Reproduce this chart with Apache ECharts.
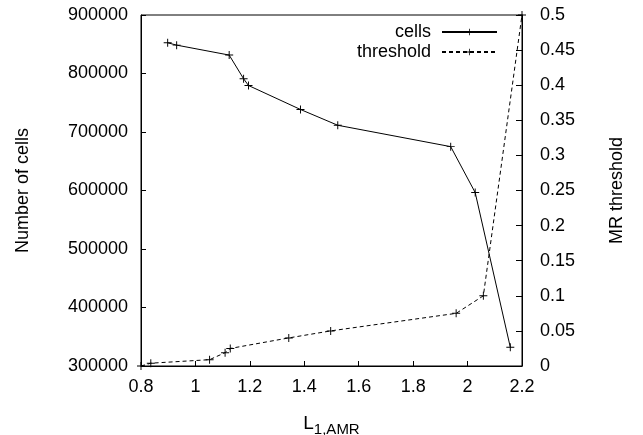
<!DOCTYPE html>
<html>
<head>
<meta charset="utf-8">
<script src="https://cdn.jsdelivr.net/npm/echarts@6/dist/echarts.min.js"></script>
<style>
  html, body { margin: 0; padding: 0; background: #fff; }
  #chart { width: 643px; height: 435px; }
</style>
</head>
<body>
<div id="chart"></div>
<script>
// cells curve (left axis)
var cellsX = [0.898, 0.931, 1.124, 1.177, 1.195, 1.386, 1.523, 1.938, 2.028, 2.157];
var cellsY = [852500, 848500, 831500, 791000, 779500, 738500, 711500, 675000, 596500, 332000];
// MR threshold curve (right axis)
var thrX = [0.8, 0.836, 1.052, 1.109, 1.128, 1.343, 1.497, 1.958, 2.058, 2.2];
var thrY = [0.0, 0.004, 0.009, 0.019, 0.025, 0.04, 0.05, 0.075, 0.1, 0.5];

var plus = 'path://M-1,-0.12L1,-0.12L1,0.12L-1,0.12Z M-0.12,-1L0.12,-1L0.12,1L-0.12,1Z';
var font = 'Liberation Sans';
var fs = 18;

function pairs(xs, ys) {
    var out = [];
    for (var i = 0; i < xs.length; i++) out.push([xs[i], ys[i]]);
    return out;
}

var chart = echarts.init(document.getElementById('chart'));
chart.setOption({
    animation: false,
    backgroundColor: '#fff',
    textStyle: { fontFamily: font },
    grid: {
        left: 141, right: 121, top: 15, bottom: 69,
        outerBoundsMode: 'none',
        containLabel: false,
        show: true, borderColor: '#000', borderWidth: 1
    },
    legend: {
        orient: 'vertical',
        right: 145,
        top: 22,
        align: 'right',
        itemWidth: 55,
        itemHeight: 8,
        itemGap: 0,
        padding: 0,
        textStyle: { fontFamily: font, fontSize: fs, color: '#000', lineHeight: 20, padding: [0, 6, 0, 0] },
        data: ['cells', 'threshold']
    },
    xAxis: {
        type: 'value',
        min: 0.8, max: 2.2, interval: 0.2,
        name: '{a|L}{b|1,AMR}',
        nameLocation: 'middle',
        nameGap: 44,
        nameTextStyle: {
            rich: {
                a: { fontFamily: font, fontSize: 19, color: '#000' },
                b: { fontFamily: font, fontSize: 15, color: '#000', verticalAlign: 'bottom', padding: [12, 0, 0, 0] }
            }
        },
        axisLine: { lineStyle: { color: '#000', width: 1 } },
        axisTick: { inside: true, length: 5, lineStyle: { color: '#000' } },
        axisLabel: { color: '#000', fontSize: fs, margin: 12 },
        splitLine: { show: false }
    },
    yAxis: [
        {
            type: 'value',
            min: 300000, max: 900000, interval: 100000,
            name: 'Number of cells',
            nameLocation: 'middle',
            nameGap: 109,
            nameRotate: 90,
            nameTextStyle: { fontSize: fs, color: '#000' },
            axisLine: { show: true, lineStyle: { color: '#000', width: 1 } },
            axisTick: { show: true, inside: true, length: 5, lineStyle: { color: '#000' } },
            axisLabel: {
                color: '#000', fontSize: fs, margin: 13,
                formatter: function (v) { return String(v); }
            },
            splitLine: { show: false }
        },
        {
            type: 'value',
            position: 'right',
            min: 0, max: 0.5, interval: 0.05,
            name: 'MR threshold',
            nameLocation: 'middle',
            nameGap: 86,
            nameRotate: 90,
            nameTextStyle: { fontSize: fs, color: '#000' },
            axisLine: { show: true, lineStyle: { color: '#000', width: 1 } },
            axisTick: { show: true, inside: true, length: 6, lineStyle: { color: '#000' } },
            axisLabel: { color: '#000', fontSize: fs, margin: 18 },
            splitLine: { show: false }
        }
    ],
    series: [
        {
            name: 'cells',
            type: 'line',
            yAxisIndex: 0,
            data: pairs(cellsX, cellsY),
            symbol: plus,
            symbolSize: 8,
            showSymbol: true,
            clip: false,
            itemStyle: { color: '#000' },
            lineStyle: { color: '#000', width: 1 }
        },
        {
            name: 'threshold',
            type: 'line',
            yAxisIndex: 1,
            data: pairs(thrX, thrY),
            symbol: plus,
            symbolSize: 8,
            showSymbol: true,
            clip: false,
            itemStyle: { color: '#000' },
            lineStyle: { color: '#000', width: 1, type: [4, 3] }
        }
    ]
});

window.addEventListener('resize', function () {
    chart.resize();
});
</script>
</body>
</html>
